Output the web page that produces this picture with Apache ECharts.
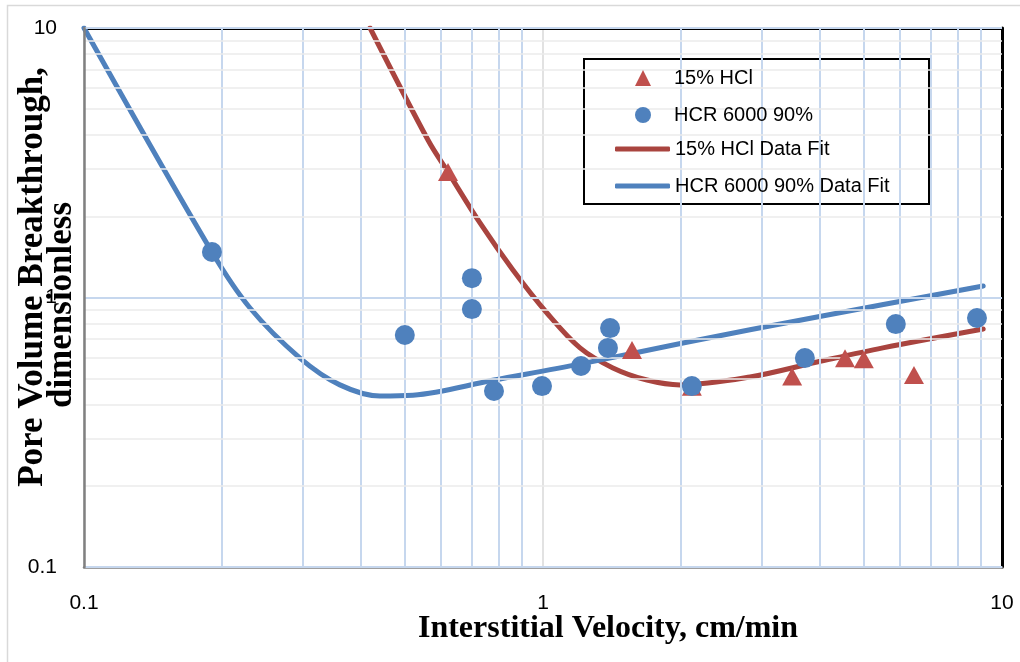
<!DOCTYPE html>
<html>
<head>
<meta charset="utf-8">
<title>Pore Volume Breakthrough vs Interstitial Velocity</title>
<script src="https://cdn.jsdelivr.net/npm/echarts@6/dist/echarts.min.js"></script>
<style>
  html, body { margin: 0; padding: 0; background: #ffffff; }
  #chart { width: 1020px; height: 662px; }
</style>
</head>
<body>
<div id="chart"></div>
<script>
// Measured points: [interstitial velocity (cm/min), pore volumes to breakthrough]
const hclPoints = [
  [0.621, 2.92], [1.563, 0.639], [2.11, 0.466], [3.49, 0.509],
  [4.55, 0.595], [5.00, 0.590], [6.43, 0.516]
];
const hcrPoints = [
  [0.190, 1.475], [0.500, 0.726], [0.700, 1.18], [0.700, 0.906],
  [0.782, 0.450], [0.995, 0.469], [1.21, 0.557], [1.385, 0.650],
  [1.40, 0.770], [2.11, 0.469], [3.72, 0.596], [5.87, 0.797], [8.82, 0.839]
];

// Fitted curves
const hclFit = [
  [0.42, 10], [0.5616, 3.84], [0.621, 2.92], [0.729, 1.89], [0.86, 1.265],
  [1.02, 0.876], [1.204, 0.65], [1.42, 0.548], [1.685, 0.494], [1.99, 0.474],
  [2.825, 0.507], [3.954, 0.576], [5.50, 0.65], [9.1, 0.764]
];
const hcrFit = [
  [0.1, 10], [0.19, 1.475], [0.230, 0.914], [0.2955, 0.596], [0.361, 0.474],
  [0.4414, 0.431], [0.5208, 0.434], [0.782, 0.494], [1.21, 0.567],
  [2.018, 0.678], [3.954, 0.847], [9.1, 1.103]
];

// Axis ranges and gridline positions
const xRange = [0.1, 10];
const yRange = [0.1, 10];
const xMinorGrid = [0.2, 0.3, 0.4, 0.5, 0.6, 0.7, 0.8, 0.9, 2, 3, 4, 5, 6, 7, 8, 9];
const yMinorGrid = [0.2, 0.3, 0.4, 0.5, 0.6, 0.7, 0.8, 0.9, 2, 3, 4, 5, 6, 7, 8, 9];

const seriesNames = ['15% HCl', 'HCR 6000 90%', '15% HCl Data Fit', 'HCR 6000 90% Data Fit'];
const xTitle = 'Interstitial Velocity, cm/min';
const yTitleLines = ['Pore Volume Breakthrough,', 'dimensionless'];

const SANS = '"Liberation Sans", Arial, sans-serif';
const SERIF = '"Liberation Serif", "Times New Roman", serif';

const chart = echarts.init(document.getElementById('chart'), null, { renderer: 'canvas' });

function gridLines(values, axis, color, width) {
  return {
    silent: true,
    symbol: ['none', 'none'],
    label: { show: false },
    emphasis: { disabled: true },
    animation: false,
    lineStyle: { color: color, width: width, type: 'solid' },
    data: values.map(v => (axis === 'x' ? { xAxis: v } : { yAxis: v }))
  };
}

const legendText = { fontFamily: SANS, fontSize: 20, color: '#000', lineHeight: 20 };

const option = {
  animation: false,
  backgroundColor: '#ffffff',
  grid: { left: 84, right: 18, top: 28, bottom: 95, containLabel: false },
  xAxis: [
    {
      type: 'log', logBase: 10, min: xRange[0], max: xRange[1], position: 'bottom',
      axisLine: { show: true, lineStyle: { color: '#808080', width: 2.5 } },
      axisTick: { show: false },
      axisLabel: { fontFamily: SANS, fontSize: 21, color: '#000', margin: 26 },
      splitLine: { show: true, lineStyle: { color: '#d9d9d9', width: 1.5 } },
      minorSplitLine: { show: false }
    },
    {
      type: 'log', logBase: 10, min: xRange[0], max: xRange[1], position: 'top',
      axisLine: { show: true, lineStyle: { color: '#000', width: 3 } },
      axisTick: { show: false }, axisLabel: { show: false }, splitLine: { show: false }
    }
  ],
  yAxis: [
    {
      type: 'log', logBase: 10, min: yRange[0], max: yRange[1], position: 'left', z: 70,
      axisLine: { show: true, lineStyle: { color: '#808080', width: 2.5 } },
      axisTick: { show: false },
      axisLabel: { fontFamily: SANS, fontSize: 21, color: '#000', margin: 27 },
      splitLine: { show: true, lineStyle: { color: '#c6d7ee', width: 2 } },
      minorSplitLine: { show: false }
    },
    {
      type: 'log', logBase: 10, min: yRange[0], max: yRange[1], position: 'right',
      axisLine: { show: true, lineStyle: { color: '#000', width: 3 } },
      axisTick: { show: false }, axisLabel: { show: false }, splitLine: { show: false }
    }
  ],
  legend: [
    {
      data: [seriesNames[0], seriesNames[1]],
      orient: 'vertical', left: 635, top: 68, padding: 0, z: 20,
      itemWidth: 16, itemHeight: 16, itemGap: 17,
      selectedMode: false,
      textStyle: Object.assign({ padding: [0, 0, 0, 18] }, legendText)
    },
    {
      data: [
        { name: seriesNames[2], icon: 'roundRect' },
        { name: seriesNames[3], icon: 'roundRect' }
      ],
      orient: 'vertical', left: 615, top: 139, padding: 0, z: 20,
      itemWidth: 55, itemHeight: 5, itemGap: 17,
      selectedMode: false,
      textStyle: legendText
    }
  ],
  graphic: [
    {
      type: 'rect', z: -10, silent: true,
      shape: { x: 7.5, y: 5.5, width: 1040, height: 700 },
      style: { fill: null, stroke: '#d9d9d9', lineWidth: 1.5 }
    },
    {
      type: 'rect', z: 3, silent: true,
      shape: { x: 584, y: 59, width: 345, height: 145 },
      style: { fill: '#ffffff', stroke: '#000', lineWidth: 2 }
    },
    {
      type: 'text', silent: true, z: 60,
      x: 608, y: 629,
      style: {
        text: xTitle, fontFamily: SERIF, fontWeight: 'bold', fontSize: 32,
        fill: '#000', align: 'center', verticalAlign: 'middle'
      }
    },
    {
      type: 'text', silent: true, z: 60,
      x: 33, y: 277, rotation: Math.PI / 2,
      style: {
        text: yTitleLines[0], fontFamily: SERIF, fontWeight: 'bold', fontSize: 35,
        fill: '#000', align: 'center', verticalAlign: 'middle'
      }
    },
    {
      type: 'text', silent: true, z: 60,
      x: 62, y: 305, rotation: Math.PI / 2,
      style: {
        text: yTitleLines[1], fontFamily: SERIF, fontWeight: 'bold', fontSize: 35,
        fill: '#000', align: 'center', verticalAlign: 'middle'
      }
    }
  ],
  series: [
    {
      name: 'gridX', type: 'line', data: [], z: 1, silent: true,
      markLine: gridLines(xMinorGrid, 'x', '#c6d7ee', 2)
    },
    {
      name: 'gridY', type: 'line', data: [], z: 1, silent: true,
      markLine: gridLines(yMinorGrid, 'y', '#ebebeb', 1.5)
    },
    {
      name: seriesNames[2], type: 'line', data: hclFit, z: 3,
      smooth: 0.35, showSymbol: false, symbol: 'none',
      color: '#a9443f',
      itemStyle: { color: '#a9443f' },
      lineStyle: { color: '#a9443f', width: 5, cap: 'round' }
    },
    {
      name: seriesNames[3], type: 'line', data: hcrFit, z: 4,
      smooth: 0.35, showSymbol: false, symbol: 'none',
      color: '#4f81bd',
      itemStyle: { color: '#4f81bd' },
      lineStyle: { color: '#4f81bd', width: 5, cap: 'round' }
    },
    {
      name: seriesNames[0], type: 'scatter', data: hclPoints, z: 5,
      symbol: 'triangle', symbolSize: [20, 18],
      itemStyle: { color: '#c0504d', opacity: 1 }
    },
    {
      name: seriesNames[1], type: 'scatter', data: hcrPoints, z: 6,
      symbol: 'circle', symbolSize: 20,
      itemStyle: { color: '#4f81bd', opacity: 1 }
    }
  ]
};

chart.setOption(option);
</script>
</body>
</html>
